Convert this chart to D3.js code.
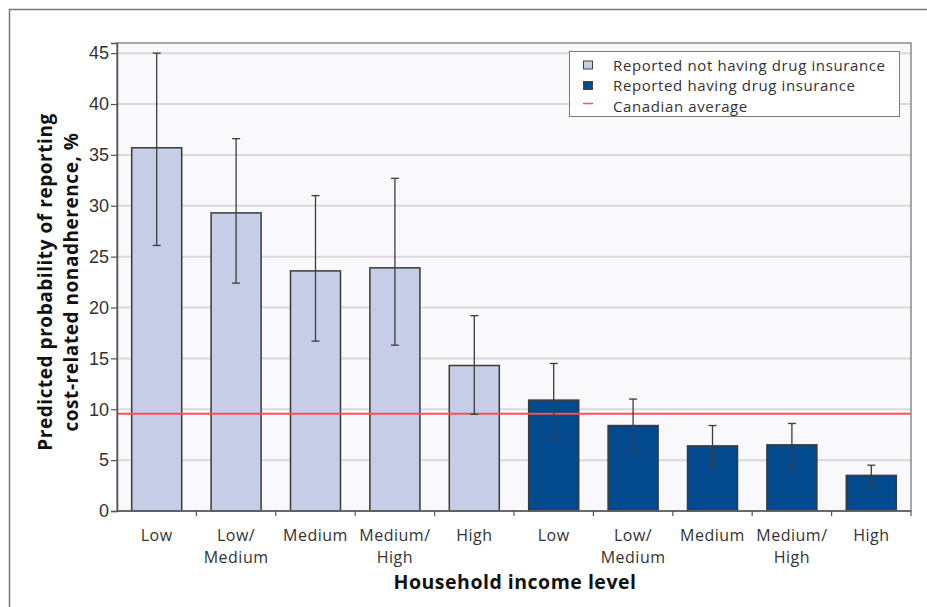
<!DOCTYPE html>
<html lang="en">
<head>
<meta charset="UTF-8">
<title>Cost-related nonadherence by income</title>
<script src="https://d3js.org/d3.v7.min.js"></script>
<style>
    body { margin: 0; background: #fff; }
    svg { display: block; font-family: "Open Sans", "Noto Sans", sans-serif; }
</style>
</head>
<body>
<script>
// income levels, shown once per insurance group
var incomeLevels = ["Low", "Low/|Medium", "Medium", "Medium/|High", "High"];
var groups = ["Reported not having drug insurance", "Reported having drug insurance"];

// predicted probability (%) and 95% CI
var noInsurance = [35.7, 29.3, 23.6, 23.9, 14.3];
var noInsuranceLow = [26.1, 22.4, 16.7, 16.3, 9.5];
var noInsuranceHigh = [45.0, 36.6, 31.0, 32.7, 19.2];

var withInsurance = [10.9, 8.4, 6.4, 6.5, 3.5];
var withInsuranceLow = [7.1, 6.0, 4.4, 4.2, 2.5];
var withInsuranceHigh = [14.5, 11.0, 8.4, 8.6, 4.5];

var canadianAverage = 9.55;
var yTicks = [0, 5, 10, 15, 20, 25, 30, 35, 40, 45];

var colors = ["#c5cee6", "#024a8d"];

var rows = [];
[noInsurance, withInsurance].forEach(function (vals, g) {
    var lo = g == 0 ? noInsuranceLow : withInsuranceLow;
    var hi = g == 0 ? noInsuranceHigh : withInsuranceHigh;
    vals.forEach(function (v, i) {
        rows.push({ key: g + "-" + i, label: incomeLevels[i], group: g, value: v, lo: lo[i], hi: hi[i] });
    });
});

var width = 927, height = 607;
var margin = { left: 117, top: 43, right: 16, bottom: 96 };
var x0 = margin.left, x1 = width - margin.right, y1 = height - margin.bottom;

var svg = d3.select("body").append("svg")
    .attr("width", width)
    .attr("height", height);

// outer frame (top and left edges only visible)
svg.append("path")
    .attr("d", "M9.5," + height + "V9.5H" + width)
    .attr("fill", "none")
    .attr("stroke", "#777")
    .attr("stroke-width", 1.5);

var x = d3.scaleBand()
    .domain(rows.map(function (d) { return d.key; }))
    .range([x0, x1])
    .paddingInner(0.37)
    .paddingOuter(0.185);

var y = d3.scaleLinear()
    .domain([0, 46])
    .range([y1, margin.top]);

// plot background
svg.append("rect")
    .attr("x", x0).attr("y", margin.top)
    .attr("width", x1 - x0).attr("height", y1 - margin.top)
    .attr("fill", "#f9f9fb");

// gridlines
svg.append("g").selectAll("line")
    .data(yTicks.filter(function (t) { return t > 0; }))
    .enter().append("line")
    .attr("x1", x0).attr("x2", x1)
    .attr("y1", function (d) { return y(d); })
    .attr("y2", function (d) { return y(d); })
    .attr("stroke", "#d9d9db")
    .attr("stroke-width", 2);

// bars
svg.append("g").selectAll("rect")
    .data(rows)
    .enter().append("rect")
    .attr("x", function (d) { return x(d.key); })
    .attr("y", function (d) { return y(d.value); })
    .attr("width", x.bandwidth())
    .attr("height", function (d) { return y(0) - y(d.value); })
    .attr("fill", function (d) { return colors[d.group]; })
    .attr("stroke", "#3a3a3a")
    .attr("stroke-width", 1.5);

// canadian average
svg.append("line")
    .attr("x1", x0).attr("x2", x1)
    .attr("y1", y(canadianAverage)).attr("y2", y(canadianAverage))
    .attr("stroke", "#f0545c")
    .attr("stroke-width", 2);

// error bars
var err = svg.append("g").attr("stroke", "#3c3c3c").attr("stroke-width", 1.3);
rows.forEach(function (d) {
    var cx = x(d.key) + x.bandwidth() / 2;
    err.append("line").attr("x1", cx).attr("x2", cx).attr("y1", y(d.lo)).attr("y2", y(d.hi));
    err.append("line").attr("x1", cx - 4).attr("x2", cx + 4).attr("y1", y(d.lo)).attr("y2", y(d.lo));
    err.append("line").attr("x1", cx - 4).attr("x2", cx + 4).attr("y1", y(d.hi)).attr("y2", y(d.hi));
});

// plot border
svg.append("rect")
    .attr("x", x0).attr("y", margin.top)
    .attr("width", x1 - x0).attr("height", y1 - margin.top)
    .attr("fill", "none")
    .attr("stroke", "#8a8a8a")
    .attr("stroke-width", 1.5);

// y axis
var yAxis = svg.append("g")
    .attr("transform", "translate(" + x0 + ",0)")
    .call(d3.axisLeft(y).tickValues(yTicks).tickSize(6).tickPadding(2));
yAxis.select(".domain").attr("stroke", "#555").attr("stroke-width", 1.5);
yAxis.selectAll(".tick line").attr("stroke", "#555").attr("stroke-width", 1.2);
yAxis.selectAll(".tick text")
    .attr("fill", "#333")
    .style("font-size", "18px");

// x axis: ticks at band boundaries, labels centered on bands
var step = x.step();
var boundaries = rows.map(function (d, i) { return x0 + step * (i + 1); });
var xAxis = svg.append("g");
xAxis.append("line")
    .attr("x1", x0).attr("x2", x1).attr("y1", y1).attr("y2", y1)
    .attr("stroke", "#555").attr("stroke-width", 1.5);
xAxis.selectAll("line.tk")
    .data(boundaries)
    .enter().append("line")
    .attr("class", "tk")
    .attr("x1", function (d) { return d; }).attr("x2", function (d) { return d; })
    .attr("y1", y1).attr("y2", y1 + 5)
    .attr("stroke", "#555").attr("stroke-width", 1.2);

// one text element per label line
var labelLines = [];
rows.forEach(function (d) {
    d.label.split("|").forEach(function (s, k) {
        labelLines.push({ cx: x(d.key) + x.bandwidth() / 2, line: k, text: s });
    });
});
xAxis.selectAll("text")
    .data(labelLines)
    .enter().append("text")
    .attr("x", function (d) { return d.cx; })
    .attr("y", function (d) { return 541 + d.line * 22; })
    .attr("text-anchor", "middle")
    .attr("fill", "#333")
    .style("font-size", "16px")
    .style("letter-spacing", "0.5px")
    .text(function (d) { return d.text; });

// axis titles
svg.append("text")
    .attr("x", 515)
    .attr("y", 589)
    .attr("text-anchor", "middle")
    .attr("fill", "#111")
    .style("font-size", "19.5px")
    .style("font-weight", "bold")
    .style("letter-spacing", "0.5px")
    .text("Household income level");

var yTitle = svg.append("g")
    .attr("transform", "translate(0," + 282 + ") rotate(-90)");
["Predicted probability of reporting", "cost-related nonadherence, %"].forEach(function (s, k) {
    yTitle.append("text")
        .attr("x", 0).attr("y", 52 + k * 26)
        .attr("text-anchor", "middle")
        .attr("fill", "#111")
        .style("font-size", "19px")
        .style("font-weight", "bold")
        .style("letter-spacing", "0.55px")
        .text(s);
});

// legend
var legend = svg.append("g");
legend.append("rect")
    .attr("x", 569.5).attr("y", 51.5)
    .attr("width", 330).attr("height", 65)
    .attr("fill", "#fff")
    .attr("stroke", "#7a7a7a")
    .attr("stroke-width", 1);

var legendItems = [
    { label: groups[0], kind: "box", color: colors[0] },
    { label: groups[1], kind: "box", color: colors[1] },
    { label: "Canadian average", kind: "line", color: "#f0545c" }
];
legendItems.forEach(function (d, i) {
    var cy = 65.5 + i * 20.5;
    if (d.kind == "box") {
        legend.append("rect")
            .attr("x", 583.5).attr("y", cy - 4.5)
            .attr("width", 9).attr("height", 8)
            .attr("fill", d.color)
            .attr("stroke", "#444").attr("stroke-width", 1);
    } else {
        legend.append("line")
            .attr("x1", 583).attr("x2", 593)
            .attr("y1", cy - 3).attr("y2", cy - 3)
            .attr("stroke", d.color).attr("stroke-width", 1.5);
    }
    legend.append("text")
        .attr("x", 613).attr("y", cy + 5)
        .attr("fill", "#333")
        .style("font-size", "15px")
        .style("letter-spacing", "0.62px")
        .text(d.label);
});
</script>
</body>
</html>
